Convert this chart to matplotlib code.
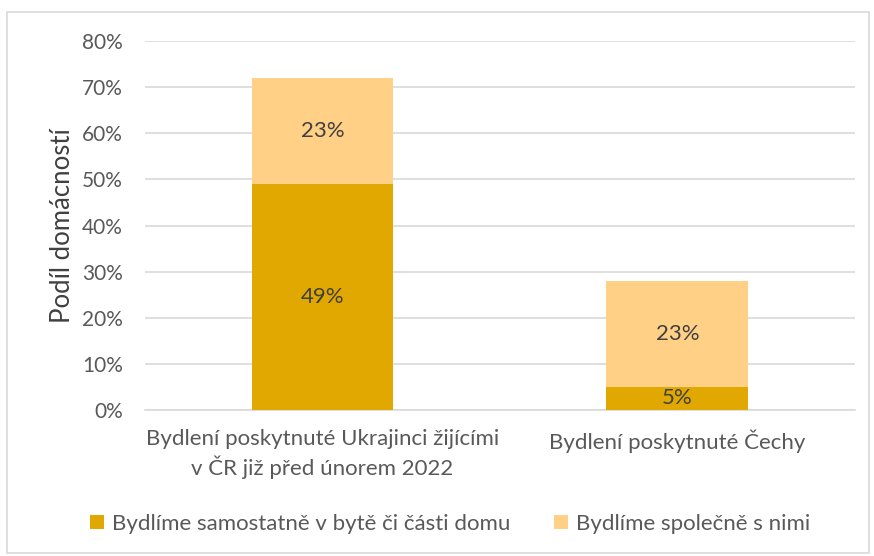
import matplotlib
matplotlib.use("Agg")
import matplotlib.pyplot as plt
from matplotlib.patches import Rectangle
import numpy as np

plt.rcParams["font.family"] = ["Lato", "DejaVu Sans"]

kategorie = ["Bydlení poskytnuté Ukrajinci žijícími\nv ČR již před únorem 2022",
             "Bydlení poskytnuté Čechy"]
samostatne = [49, 5]
spolecne = [23, 23]
serie = ["Bydlíme samostatně v bytě či části domu", "Bydlíme společně s nimi"]
barvy = ["#E0A800", "#FFD086"]

fig = plt.figure(figsize=(8.74, 5.56), dpi=100)
ax = fig.add_axes([0.166, 0.2626, 0.812, 0.6636])

x = np.arange(len(kategorie))
b1 = ax.bar(x, samostatne, width=0.4, color=barvy[0], label=serie[0], zorder=3)
b2 = ax.bar(x, spolecne, width=0.4, bottom=samostatne, color=barvy[1], label=serie[1], zorder=3)

for bars, vals, base in [(b1, samostatne, [0, 0]), (b2, spolecne, samostatne)]:
    for r, v, b in zip(bars, vals, base):
        ax.text(r.get_x() + r.get_width() / 2, b + v / 2, f"{v}%", ha="center", va="center",
                fontsize=16, color="#404040", zorder=4)

ax.set_xlim(-0.5, 1.5)
ax.set_ylim(0, 80)
ax.set_yticks(range(0, 81, 10))
ax.set_yticklabels([f"{t}%" for t in range(0, 81, 10)])
ax.set_xticks(x)
ax.set_xticklabels(kategorie, linespacing=1.3)
ax.tick_params(axis="both", length=0, labelcolor="#595959")
ax.tick_params(axis="x", pad=14, labelsize=16)
ax.tick_params(axis="y", pad=16, labelsize=15)
ax.yaxis.grid(True, color="#D9D9D9", linewidth=1.2, zorder=0)
for s in ["top", "right", "left"]:
    ax.spines[s].set_visible(False)
ax.spines["bottom"].set_color("#D9D9D9")
ax.spines["bottom"].set_linewidth(1.2)
ax.set_ylabel("Podíl domácností", fontsize=18.5, color="#404040", labelpad=5)

ax.legend(loc="center", bbox_to_anchor=(0.515, 0.058), bbox_transform=fig.transFigure,
          ncol=2, frameon=False, fontsize=16, labelcolor="#595959",
          handlelength=0.6, handleheight=0.6, handletextpad=0.35, columnspacing=2.0)

fig.patches.append(Rectangle((0.008, 0.005), 0.986, 0.973, transform=fig.transFigure,
                             fill=False, edgecolor="#D9D9D9", linewidth=1.2))

fig.savefig("out.png", dpi=100)
